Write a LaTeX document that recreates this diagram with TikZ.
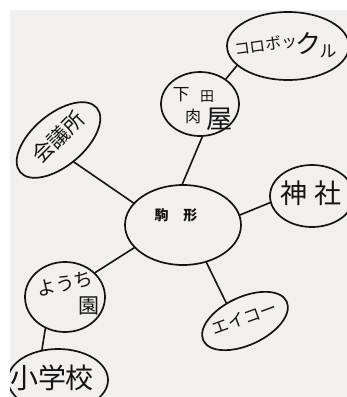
\documentclass[tikz,border=0pt]{standalone}
\usepackage{fontspec}
\newfontfamily\jp{Noto Sans CJK JP}
\usetikzlibrary{shapes.geometric}
\definecolor{paper}{RGB}{241,240,238}
\definecolor{ink}{RGB}{20,20,20}
\begin{document}
\begin{tikzpicture}[x=1pt,y=-1pt,
  bub/.style={draw=ink, line width=1.7pt, ellipse, inner sep=0pt},
  con/.style={draw=ink, line width=1.6pt, line cap=round},
  jt/.style={text=ink, inner sep=0pt}]
\fill[white] (0,0) rectangle (347,397);
\useasboundingbox (0,0) rectangle (347,397);
\fill[paper] (10,10) rectangle (347,397);
\clip (10,10) rectangle (347,397);

% centre
\node[bub, minimum width=116pt, minimum height=80pt] (koma) at (183,225) {};
\node[jt, font=\jp\bfseries\fontsize{14}{14}\selectfont] (komat) at (176,215) {駒\hspace{15pt}形};

% shimoda nikuya
\node[bub, minimum width=78pt, minimum height=64pt] (shimo) at (200,104) {};
\node[jt, font=\jp\fontsize{17}{17}\selectfont] (c1) at (181,95) {下};
\node[jt, font=\jp\fontsize{14}{14}\selectfont] (c2) at (207,97) {田};
\node[jt, font=\jp\fontsize{16}{16}\selectfont] (c3) at (193,116) {肉};
\node[jt, font=\jp\fontsize{26}{26}\selectfont] (c4) at (219,119) {屋};

% korobokkuru
\node[bub, minimum width=122pt, minimum height=68pt] (koro) at (288,46) {};
\node[jt, font=\jp\fontsize{16}{16}\selectfont, rotate=8] (k1) at (266,45) {コロボッ};
\node[jt, font=\jp\fontsize{26}{26}\selectfont] (k2) at (308,44) {ク};
\node[jt, font=\jp\fontsize{17}{17}\selectfont] (k3) at (328,51) {ル};

% kaigisho
\node[bub, minimum width=100pt, minimum height=52pt, rotate=40] (kaigi) at (58.5,140) {};
\node[jt, font=\jp\fontsize{21}{21}\selectfont, rotate=45] (kaigit) at (58,137) {会議所};

% jinja
\node[bub, minimum width=84pt, minimum height=62pt] (jinja) at (312,196) {};
\node[jt, font=\jp\fontsize{27}{27}\selectfont] (jinjat) at (311,193) {神\hspace{7pt}社};

% youchien
\node[bub, minimum width=80pt, minimum height=70pt] (youchi) at (65,297) {};
\node[jt, font=\jp\fontsize{19}{19}\selectfont, rotate=12] (y1) at (65,284) {ようち};
\node[jt, font=\jp\fontsize{21}{21}\selectfont] (y2) at (89,306) {園};

% shougakkou
\node[bub, minimum width=100pt, minimum height=62pt] (shou) at (58,380) {};
\node[jt, font=\jp\fontsize{28}{28}\selectfont] (shout) at (52,378) {小学校};

% eiko
\node[bub, minimum width=92pt, minimum height=48pt, rotate=25] (eiko) at (245,321) {};
\node[jt, font=\jp\fontsize{17}{17}\selectfont, rotate=20] (eikot) at (244,318) {エイコー};

% connectors
\draw[con] (koma.156) -- (kaigi.265);
\draw[con] (koma.91) -- (shimo.274);
\draw[con] (shimo.44) -- (koro.201);
\draw[con] (koma.10) -- (jinja.189);
\draw[con] (koma.205) -- (youchi.39);
\draw[con] (youchi.238) -- (shou.118);
\draw[con] (koma.302) -- (eiko.111);
\end{tikzpicture}
\end{document}
